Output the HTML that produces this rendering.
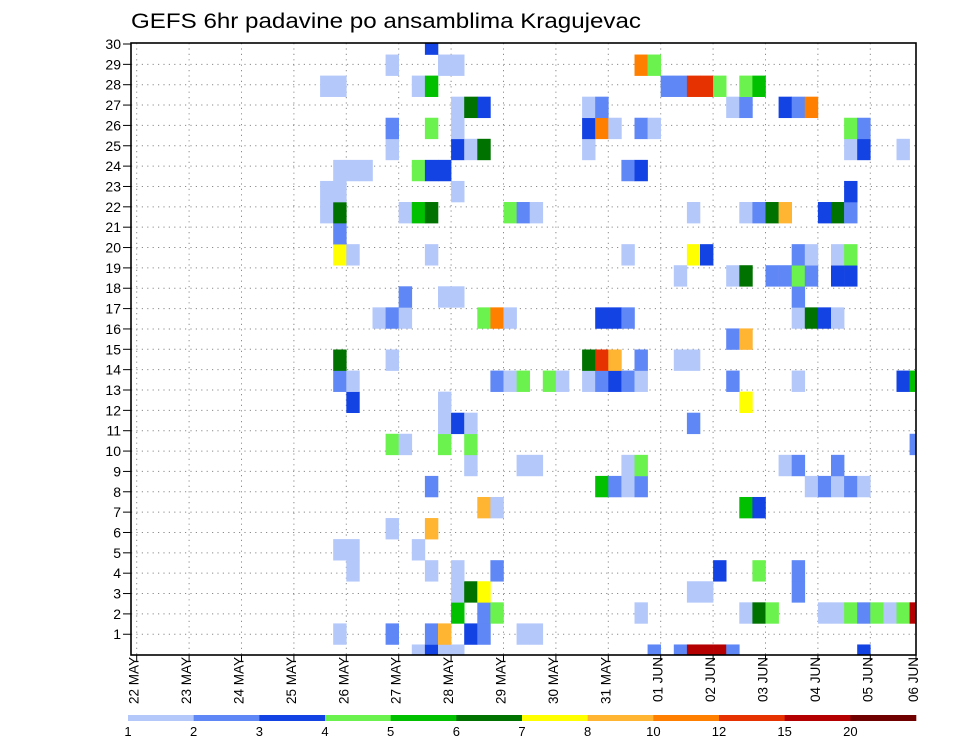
<!DOCTYPE html>
<html><head><meta charset="utf-8"><style>
html,body{margin:0;padding:0;background:#fff;}
svg{display:block;font-family:"Liberation Sans",sans-serif;}
</style></head><body>
<svg id="chart" width="960" height="742" viewBox="0 0 960 742" xmlns="http://www.w3.org/2000/svg">
<text x="131" y="28" font-size="21" textLength="510" lengthAdjust="spacingAndGlyphs" fill="#000">GEFS 6hr padavine po ansamblima Kragujevac</text>
<g id="grid"></g>
<g id="cells" clip-path="url(#plotclip)"></g>
<defs><clipPath id="plotclip"><rect x="131" y="43" width="785" height="612"/></clipPath></defs>
<rect x="131" y="43" width="785" height="612" fill="none" stroke="#000" stroke-width="1.6"/>
<g id="yaxis"></g>
<g id="xaxis"></g>
<g id="legend"></g>
</svg>
<script>
// x tick labels (days), y tick labels, colour levels
const dayLabels = ["22 MAY","23 MAY","24 MAY","25 MAY","26 MAY","27 MAY","28 MAY","29 MAY","30 MAY","31 MAY","01 JUN","02 JUN","03 JUN","04 JUN","05 JUN","06 JUN"];
const yTickLabels = [1,2,3,4,5,6,7,8,9,10,11,12,13,14,15,16,17,18,19,20,21,22,23,24,25,26,27,28,29,30];
const levelLabels = [1,2,3,4,5,6,7,8,10,12,15,20];
const levelColors = ["#b4c8fa","#5f87f5","#1443e3","#6cf24e","#00c000","#007200","#ffff00","#ffb432","#ff8000","#e63200","#b40000","#700000"];
// per ensemble member (index 0..29): 6-hourly step indices and precip values (mm)
const memberSteps = [
 [21,22,23,24,39,41,42,43,44,45,55],
 [15,19,22,23,25,26,29,30],
 [24,26,27,38,46,47,48,52,53,54,55,56,57,58,59],
 [24,25,26,42,43,50],
 [16,22,24,27,44,47,50],
 [15,16,21],
 [19,22],
 [26,27,46,47],
 [22,35,36,37,38,51,52,53,54,55],
 [25,29,30,37,38,49,50,53],
 [19,20,23,25,59],
 [23,24,25,42],
 [16,23,46],
 [15,16,27,28,29,31,32,34,35,36,37,38,45,50,58,59],
 [15,19,34,35,36,38,41,42],
 [45,46],
 [18,19,20,26,27,28,35,36,37,50,51,52,53],
 [20,23,24,50],
 [41,45,46,48,49,50,51,53,54],
 [15,16,22,37,42,43,50,51,53,54],
 [15],
 [14,15,20,21,22,28,29,30,42,46,47,48,49,52,53,54],
 [14,15,24,54],
 [15,16,17,21,22,23,37,38],
 [19,24,25,26,34,54,55,58],
 [19,22,24,34,35,36,38,39,54,55],
 [24,25,26,34,35,45,46,49,50,51],
 [14,15,21,22,40,41,42,43,44,46,47],
 [19,23,24,38,39],
 [22]
];
const memberValues = [
 [1.5,3.5,1.5,1.5,2.5,2.5,17,17,17,2.5,3.5],
 [1.5,2.5,2.5,9,3.5,2.5,1.5,1.5],
 [5.5,2.5,4.5,1.5,1.5,6.5,4.5,1.5,1.5,4.5,2.5,4.5,1.5,4.5,17],
 [1.5,6.5,7.5,1.5,1.5,2.5],
 [1.5,1.5,1.5,2.5,3.5,4.5,2.5],
 [1.5,1.5,1.5],
 [1.5,9],
 [9,1.5,5.5,3.5],
 [2.5,5.5,2.5,1.5,2.5,1.5,2.5,1.5,2.5,1.5],
 [1.5,1.5,1.5,1.5,4.5,1.5,2.5,2.5],
 [4.5,1.5,4.5,4.5,2.5],
 [1.5,3.5,1.5,2.5],
 [3.5,1.5,7.5],
 [2.5,1.5,2.5,1.5,4.5,4.5,1.5,1.5,2.5,3.5,2.5,1.5,2.5,1.5,3.5,5.5],
 [6.5,1.5,6.5,13.5,9,2.5,1.5,1.5],
 [2.5,9],
 [1.5,2.5,1.5,4.5,11,1.5,3.5,3.5,2.5,1.5,6.5,3.5,1.5],
 [2.5,1.5,1.5,2.5],
 [1.5,1.5,6.5,2.5,2.5,4.5,2.5,3.5,3.5],
 [7.5,1.5,1.5,1.5,7.5,3.5,2.5,1.5,1.5,4.5],
 [2.5],
 [1.5,6.5,1.5,5.5,6.5,4.5,2.5,1.5,1.5,1.5,2.5,6.5,9,3.5,6.5,2.5],
 [1.5,1.5,1.5,3.5],
 [1.5,1.5,1.5,4.5,3.5,3.5,2.5,3.5],
 [1.5,3.5,1.5,6.5,1.5,1.5,3.5,1.5],
 [2.5,4.5,1.5,3.5,11,1.5,2.5,1.5,4.5,2.5],
 [1.5,6.5,3.5,1.5,2.5,1.5,2.5,3.5,2.5,11],
 [1.5,1.5,1.5,5.5,2.5,2.5,13.5,13.5,4.5,4.5,5.5],
 [1.5,1.5,1.5,11,4.5],
 [3.5]
];

const NS = "http://www.w3.org/2000/svg";
const PL = 131, PR = 916, PT = 43, PB = 655;
const X0 = 136.7, DAYW = 52.4, STEPW = DAYW / 4;
function xStep(k){ return X0 + k * STEPW; }
function xDay(d){ return X0 + d * DAYW; }
function yTick(v){ return 654.6 - (v) * (654.6 - 44) / 30; }
const CELLH = (PB - 44) / 29;
function yMember(j){ return PB - j * CELLH; }
function colorFor(v){
  let c = null;
  for (let i = 0; i < levelLabels.length; i++) if (v >= levelLabels[i]) c = levelColors[i];
  return c;
}
function mk(tag, attrs, parent){
  const e = document.createElementNS(NS, tag);
  for (const a in attrs) e.setAttribute(a, attrs[a]);
  parent.appendChild(e);
  return e;
}

// grid
const grid = document.getElementById('grid');
yTickLabels.forEach(v => {
  if (v >= 30) return;
  const l = mk('line', {x1: PL, x2: PR, y1: yTick(v), y2: yTick(v), stroke: '#8a8a8a', 'stroke-width': 1, 'stroke-dasharray': '1.2,4.2'}, grid);
  
  
});
dayLabels.forEach((d, i) => {
  const x = xDay(i);
  if (x > PR) return;
  const l = mk('line', {x1: x, x2: x, y1: PT, y2: PB, stroke: '#8a8a8a', 'stroke-width': 1, 'stroke-dasharray': '1.2,4.2'}, grid);
  
  
});

// cells
const cells = document.getElementById('cells');
memberSteps.forEach((steps, j) => {
  steps.forEach((k, i) => {
    const v = memberValues[j][i];
    const col = colorFor(v);
    if (!col) return;
    const r = mk('rect', {x: xStep(k), y: yMember(j) - CELLH / 2, width: STEPW + 0.3, height: CELLH + 0.3, fill: col}, cells);
    
    
  });
});

// y axis
const ya = document.getElementById('yaxis');
yTickLabels.forEach(v => {
  const y = yTick(v);
  mk('line', {x1: PL - 8, x2: PL, y1: y, y2: y, stroke: '#000', 'stroke-width': 1}, ya);
  const t = mk('text', {x: 121, y: y + 5, 'font-size': 14, 'text-anchor': 'end', fill: '#000'}, ya);
  
  
  t.textContent = v;
});

// x axis
const xa = document.getElementById('xaxis');
dayLabels.forEach((d, i) => {
  const x = Math.min(xDay(i), PR);
  mk('line', {x1: x, x2: x, y1: PB, y2: PB + 6, stroke: '#000', 'stroke-width': 1}, xa);
  const t = mk('text', {x: 0, y: 0, 'font-size': 13.5, 'text-anchor': 'end', fill: '#000', transform: 'translate(' + (x + 2) + ',' + 657 + ') rotate(-90)'}, xa);
  
  
  t.textContent = d;
});

// legend
const lg = document.getElementById('legend');
const LX0 = 128, LX1 = 916, segW = (LX1 - LX0) / levelColors.length;
levelColors.forEach((c, i) => {
  const r = mk('rect', {x: LX0 + i * segW, y: 715, width: segW + 0.3, height: 6, fill: c}, lg);
  
  
});
levelLabels.forEach((l, i) => {
  const t = mk('text', {x: LX0 + i * segW, y: 736, 'font-size': 13, 'text-anchor': 'middle', fill: '#000'}, lg);
  
  
  t.textContent = l;
});
</script>
</body></html>
